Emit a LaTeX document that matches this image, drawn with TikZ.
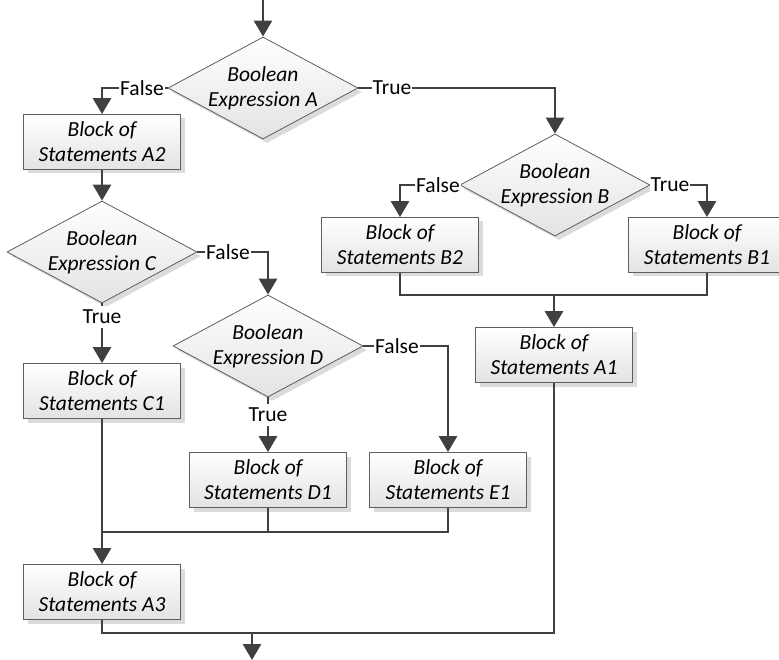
\documentclass[tikz,border=0pt]{standalone}
\usepackage{fontspec}
\setmainfont{Carlito}
\usetikzlibrary{shapes.geometric,arrows.meta,shadows}
\definecolor{ln}{HTML}{404040}
\definecolor{bd}{HTML}{5E5E5E}
\begin{document}
\begin{tikzpicture}[x=1pt,y=-1pt,
  conn/.style={draw=ln, line width=2.7pt},
  arr/.style={conn,-{Triangle[length=16pt,width=18pt]}},
  shd/.style={drop shadow={shadow xshift=4pt, shadow yshift=-4pt, fill=black!14, opacity=1}},
  box/.style={rectangle, draw=bd, line width=0.8pt, top color=white, bottom color=black!11,
    minimum width=157pt, minimum height=55pt, inner sep=0pt, align=center,
    font=\fontsize{21.5}{25}\selectfont\itshape, shd},
  dia/.style={diamond, draw=bd, line width=0.8pt, top color=white, bottom color=black!11,
    minimum width=190pt, minimum height=102pt, inner sep=0pt, shd},
  dtxt/.style={align=center, inner sep=0pt, font=\fontsize{21.5}{25}\selectfont\itshape},
  lbl/.style={fill=white, inner xsep=1pt, inner ysep=4pt, font=\fontsize{21.5}{25}\selectfont}]
\useasboundingbox (0,0) rectangle (779,660);

% nodes
\node[dia, label={[dtxt]center:Boolean\\Expression A}] (dA) at (263,88) {};
\node[box] (A2) at (102,142) {Block of\\Statements A2};
\node[dia, label={[dtxt]center:Boolean\\Expression C}] (dC) at (102,252) {};
\node[box] (C1) at (102,391) {Block of\\Statements C1};
\node[dia, label={[dtxt]center:Boolean\\Expression D}] (dD) at (268,346) {};
\node[box] (D1) at (268,480) {Block of\\Statements D1};
\node[box] (E1) at (448,480) {Block of\\Statements E1};
\node[box] (A3) at (102,592) {Block of\\Statements A3};
\node[dia, label={[dtxt]center:Boolean\\Expression B}] (dB) at (555,185) {};
\node[box] (B2) at (400,245) {Block of\\Statements B2};
\node[box] (B1) at (707,245) {Block of\\Statements B1};
\node[box] (A1) at (554,355) {Block of\\Statements A1};

% connectors
\coordinate (top) at (263,0);
\draw[arr] (top) -- (dA.north);
\draw[arr] (dA.west) -| (A2.north);
\node[lbl] (fA) at (142,88) {False};
\draw[arr] (dA.east) -| (dB.north);
\node[lbl] (tA) at (392,88) {True};
\draw[arr] (dB.west) -| (B2.north);
\node[lbl] (fB) at (438,185) {False};
\draw[arr] (dB.east) -| (B1.north);
\node[lbl] (tB) at (670,185) {True};
\coordinate (mB) at (554,295);
\draw[conn] (B2.south) |- (mB) -| (B1.south);
\draw[arr] (mB) -- (A1.north);

\draw[arr] (A2.south) -- (dC.north);
\draw[arr] (dC.east) -| (dD.north);
\node[lbl] (fC) at (228,252) {False};
\draw[arr] (dC.south) -- (C1.north);
\node[lbl] (tC) at (102,317) {True};
\draw[arr] (dD.south) -- (D1.north);
\node[lbl] (tD) at (268,415) {True};
\draw[arr] (dD.east) -| (E1.north);
\node[lbl] (fD) at (397,346) {False};

\coordinate (mD) at (102,532);
\draw[conn] (D1.south) |- (mD);
\draw[conn] (E1.south) |- (mD);
\draw[arr] (C1.south) -- (A3.north);
\coordinate (mE) at (252,633);
\draw[conn] (A3.south) |- (mE) -| (A1.south);
\coordinate (bot) at (252,660);
\draw[arr] (mE) -- (bot);
\end{tikzpicture}
\end{document}
